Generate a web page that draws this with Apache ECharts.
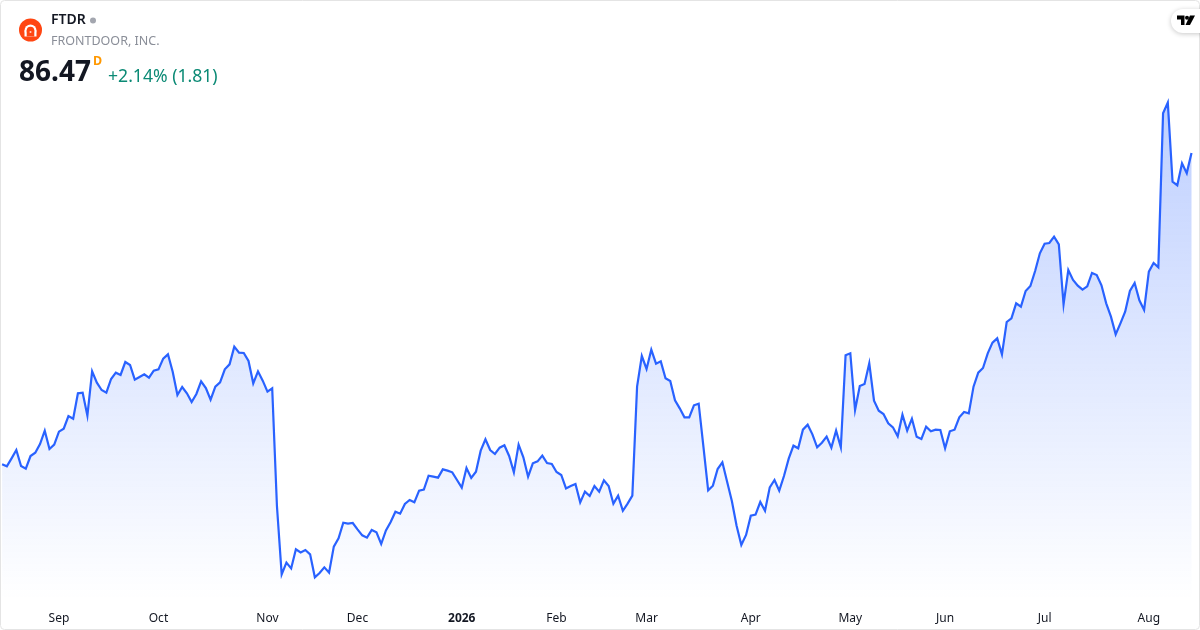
<!DOCTYPE html>
<html>
<head>
<meta charset="utf-8">
<style>html,body{margin:0;padding:0;background:#fff}#c{width:1200px;height:630px}</style>
<script src="https://cdn.jsdelivr.net/npm/echarts@6/dist/echarts.min.js"></script>
</head>
<body>
<div id="c"></div>
<script>
const symbol = 'FTDR';
const company = 'FRONTDOOR, INC.';
const lastPrice = '86.47';
const interval = 'D';
const changeText = '+2.14% (1.81)';
const startDate = '2025-08-14';
const marketHolidays = ['2025-09-01','2025-11-27','2025-12-25','2026-01-01','2026-01-19','2026-02-16','2026-04-03','2026-05-25','2026-06-19','2026-07-03'];
const tickDates = ['2025-09-02','2025-10-01','2025-11-03','2025-12-01','2026-01-02','2026-02-02','2026-03-02','2026-04-01','2026-05-01','2026-06-01','2026-07-01','2026-08-03'];
const tickLabels = ['Sep','Oct','Nov','Dec','2026','Feb','Mar','Apr','May','Jun','Jul','Aug'];
const closes = [
58.45,58.27,58.99,59.74,58.30,58.06,59.20,59.50,60.28,61.48,59.83,60.22,61.39,61.66,62.80,62.56,64.84,64.90,62.83,66.82,
65.80,65.14,64.90,66.13,66.70,66.49,67.66,67.39,66.07,66.31,66.55,66.25,66.88,67.00,67.96,68.35,66.79,64.69,65.41,64.84,
64.06,64.78,65.92,65.32,64.27,65.44,65.83,67.00,67.45,69.04,68.50,68.47,67.75,65.74,66.82,65.98,64.99,65.29,54.70,48.55,
49.60,49.08,50.80,50.52,50.74,50.35,48.28,48.67,49.18,48.70,51.04,51.79,53.20,53.11,53.17,52.60,52.06,51.85,52.54,52.33,
51.28,52.51,53.26,54.19,54.01,54.88,55.24,55.03,56.08,56.17,57.43,57.34,57.25,58.00,57.88,57.73,57.04,56.35,58.12,57.22,
57.79,59.68,60.70,59.74,59.38,59.95,60.16,59.20,57.73,60.22,59.08,57.34,58.54,58.72,59.23,58.57,58.48,57.76,57.49,56.28,
56.50,56.68,55.03,55.99,55.60,56.50,55.99,57.01,56.50,54.91,55.63,54.27,54.91,55.63,65.44,68.20,67.03,68.77,67.51,67.72,
66.19,65.95,64.21,63.49,62.68,62.68,63.76,63.91,60.04,56.11,56.53,58.03,58.63,56.89,55.15,52.93,51.19,52.09,53.83,53.92,
55.06,54.27,56.38,57.04,56.08,57.40,58.96,60.13,59.89,61.57,62.02,61.15,59.98,60.40,60.94,59.95,61.48,59.98,68.26,68.44,
63.34,65.50,65.68,67.54,64.18,63.28,62.98,62.14,61.78,60.97,62.92,61.48,62.56,60.94,60.73,61.84,61.42,61.57,61.54,59.89,
61.42,61.57,62.68,63.16,63.04,65.44,66.70,67.12,68.44,69.40,69.79,68.35,71.26,71.59,72.94,72.64,74.05,74.50,75.85,77.44,
78.31,78.37,78.94,78.25,72.85,75.94,75.04,74.53,74.17,74.47,75.67,75.49,74.56,72.94,71.74,70.15,71.14,72.19,74.05,74.77,
73.21,72.34,75.79,76.57,76.18,90.04,91.00,83.89,83.56,85.54,84.66,86.47
];

const days = [];
for (let t = Date.parse(startDate + 'T00:00:00Z'); days.length < closes.length; t += 86400000) {
  const d = new Date(t), s = d.toISOString().slice(0, 10), w = d.getUTCDay();
  if (w !== 0 && w !== 6 && !marketHolidays.includes(s)) days.push(s);
}
const font = '"Noto Sans", sans-serif';
const chart = echarts.init(document.getElementById('c'), null, {renderer: 'canvas'});
chart.setOption({
  animation: false,
  grid: {left: 2.1, right: 8.5, top: 0, bottom: 30},
  xAxis: {
    type: 'category', data: days, boundaryGap: false,
    axisLine: {show: false}, axisTick: {show: false}, splitLine: {show: false},
    axisLabel: {
      margin: 13, fontFamily: font, fontSize: 12, color: '#131722', hideOverlap: false,
      interval: (i, v) => tickDates.includes(v),
      formatter: v => {
        const l = tickLabels[tickDates.indexOf(v)];
        return /^\d+$/.test(l) ? '{y|' + l + '}' : l;
      },
      rich: {y: {fontFamily: font, fontSize: 12, fontWeight: 'bold', color: '#131722'}}
    }
  },
  yAxis: {type: 'value', min: 46.24, max: 100.24, show: false},
  series: [{
    type: 'line', data: closes, showSymbol: false, smooth: false,
    lineStyle: {color: '#2962FF', width: 2.2, join: 'miter'},
    areaStyle: {origin: 'start', opacity: 1, color: new echarts.graphic.LinearGradient(0, 0, 0, 1, [
      {offset: 0, color: 'rgba(41,98,255,0.30)'},
      {offset: 1, color: 'rgba(41,98,255,0)'}
    ])}
  }],
  graphic: [
    {type: 'rect', z: 10, shape: {x: 0.5, y: 0.5, width: 1199, height: 629, r: 4}, style: {fill: 'none', stroke: '#e4e4e4', lineWidth: 1}},
    {type: 'circle', z: 11, shape: {cx: 30.5, cy: 30, r: 11.5}, style: {fill: '#FF4612'}},
    {type: 'circle', z: 12, shape: {cx: 30.5, cy: 30.5, r: 6}, style: {fill: '#fff'}},
    {type: 'rect', z: 12, shape: {x: 24.5, y: 30.5, width: 12, height: 6}, style: {fill: '#fff'}},
    {type: 'circle', z: 13, shape: {cx: 30.5, cy: 30.5, r: 3.8}, style: {fill: '#FF4612'}},
    {type: 'rect', z: 13, shape: {x: 26.7, y: 30.5, width: 7.6, height: 6}, style: {fill: '#FF4612'}},
    {type: 'circle', z: 14, shape: {cx: 30.5, cy: 32, r: 1}, style: {fill: '#ffd2c4'}},
    {type: 'text', z: 11, style: {x: 51, y: 20.5, text: symbol, font: '600 14px ' + font, fill: '#131722', textVerticalAlign: 'middle'}},
    {type: 'circle', z: 11, shape: {cx: 93, cy: 20.5, r: 3}, style: {fill: '#a3a6af'}},
    {type: 'text', z: 11, style: {x: 51, y: 41, text: company, font: '12.5px ' + font, fill: '#8a8e98', textVerticalAlign: 'middle'}},
    {type: 'text', z: 11, style: {x: 19, y: 73, text: lastPrice, font: 'bold 28px ' + font, fill: '#131722', textVerticalAlign: 'middle'}},
    {type: 'text', z: 11, style: {x: 93, y: 61, text: interval, font: 'bold 12.5px ' + font, fill: '#FF9800', textVerticalAlign: 'middle'}},
    {type: 'text', z: 11, style: {x: 108, y: 76.5, text: changeText, font: '17.6px ' + font, fill: '#0B8A75', textVerticalAlign: 'middle'}},
    {type: 'rect', z: 11, shape: {x: 1171, y: 9, width: 40, height: 24, r: 12}, style: {fill: '#fff', shadowBlur: 5, shadowColor: 'rgba(0,0,0,0.22)', shadowOffsetY: 1}},
    {type: 'polygon', z: 12, shape: {points: [[1177,15.5],[1184.5,15.5],[1184.5,25],[1181,25],[1181,19.5],[1177,19.5]]}, style: {fill: '#000'}},
    {type: 'circle', z: 12, shape: {cx: 1187, cy: 17.7, r: 2}, style: {fill: '#000'}},
    {type: 'polygon', z: 12, shape: {points: [[1190,15.5],[1195,15.5],[1190,25],[1185.5,25]]}, style: {fill: '#000'}}
  ]
});
</script>
</body>
</html>
